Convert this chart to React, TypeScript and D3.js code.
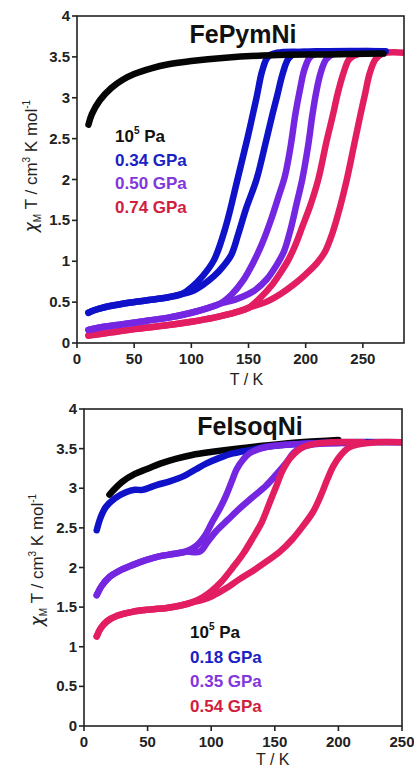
import React from "react";
import * as d3 from "d3";

// ---------- Data: top panel (FePymNi) ----------
const topTicksX = [0, 50, 100, 150, 200, 250];
const topTicksY = [0, 0.5, 1, 1.5, 2, 2.5, 3, 3.5, 4];

const fpAmbient: [number, number][] = [
  [10, 2.67], [13, 2.8], [20, 2.97], [30, 3.12], [40, 3.22], [50, 3.29], [65, 3.36],
  [80, 3.41], [100, 3.45], [130, 3.49], [170, 3.52], [220, 3.53], [268, 3.54],
];
const fp034Low: [number, number][] = [
  [10, 0.37], [15, 0.4], [25, 0.44], [40, 0.48], [60, 0.52], [80, 0.56], [92, 0.6],
];
const fp034Cool: [number, number][] = [
  [100, 0.68], [110, 0.82], [120, 1.02], [130, 1.42], [140, 1.98], [149, 2.5],
  [157, 3.0], [162, 3.33], [167, 3.5], [175, 3.55], [200, 3.56],
];
const fp034Heat: [number, number][] = [
  [100, 0.63], [110, 0.71], [120, 0.82], [128, 0.94], [135, 1.08], [141, 1.33],
  [148, 1.65], [157, 2.0], [165, 2.45], [171, 2.8], [175, 3.02], [180, 3.3],
  [185, 3.48], [192, 3.55], [220, 3.57], [270, 3.57],
];
const fp050Low: [number, number][] = [
  [10, 0.16], [20, 0.19], [40, 0.23], [60, 0.27], [80, 0.31], [100, 0.37], [115, 0.43], [125, 0.48],
];
const fp050Cool: [number, number][] = [
  [135, 0.59], [145, 0.76], [154, 0.98], [162, 1.22], [170, 1.52], [176, 1.78],
  [182, 2.05], [187, 2.42], [191, 2.8], [195, 3.1], [199, 3.35], [204, 3.5],
  [212, 3.55], [235, 3.57],
];
const fp050Heat: [number, number][] = [
  [140, 0.54], [155, 0.64], [166, 0.78], [174, 0.94], [181, 1.12], [187, 1.4],
  [192, 1.7], [197, 2.0], [202, 2.4], [206, 2.8], [209, 3.05], [213, 3.3],
  [218, 3.47], [225, 3.54], [260, 3.57],
];
const fp074Low: [number, number][] = [
  [10, 0.09], [30, 0.13], [50, 0.17], [75, 0.21], [100, 0.26], [120, 0.31], [140, 0.38], [150, 0.43],
];
const fp074Cool: [number, number][] = [
  [160, 0.55], [170, 0.7], [178, 0.86], [185, 1.02], [191, 1.2], [197, 1.42],
  [204, 1.68], [211, 2.0], [218, 2.45], [224, 2.8], [228, 3.05], [233, 3.3],
  [238, 3.47], [245, 3.53], [255, 3.55],
];
const fp074Heat: [number, number][] = [
  [165, 0.5], [178, 0.6], [190, 0.72], [200, 0.84], [210, 0.98], [217, 1.12],
  [224, 1.37], [230, 1.66], [236, 2.0], [242, 2.4], [248, 2.8], [252, 3.05],
  [256, 3.3], [261, 3.47], [267, 3.54], [287, 3.55],
];

// ---------- Data: bottom panel (FeIsoqNi) ----------
const botTicksX = [0, 50, 100, 150, 200, 250];
const botTicksY = [0, 0.5, 1, 1.5, 2, 2.5, 3, 3.5, 4];

const fiAmbient: [number, number][] = [
  [20, 2.92], [30, 3.08], [40, 3.18], [49, 3.24], [60, 3.31], [72, 3.37], [85, 3.42],
  [101, 3.46], [120, 3.5], [143, 3.54], [170, 3.58], [200, 3.61],
];
const fi018: [number, number][] = [
  [10, 2.47], [13, 2.63], [17, 2.76], [24, 2.87], [33, 2.95], [40, 2.98], [46, 2.98],
  [57, 3.04], [68, 3.09], [78, 3.15], [88, 3.24], [96, 3.31], [106, 3.38], [117, 3.44],
  [130, 3.48], [143, 3.52], [169, 3.56], [200, 3.58], [250, 3.58],
];
const fi035Low: [number, number][] = [
  [10, 1.65], [14, 1.77], [20, 1.88], [28, 1.96], [38, 2.03], [48, 2.09], [59, 2.14],
  [70, 2.17], [80, 2.2],
];
const fi035Cool: [number, number][] = [
  [88, 2.27], [95, 2.4], [101, 2.58], [107, 2.75], [112, 2.92], [116, 3.08],
  [120, 3.24], [125, 3.36], [130, 3.44], [143, 3.52], [170, 3.56], [200, 3.57],
];
const fi035Heat: [number, number][] = [
  [91, 2.2], [97, 2.32], [104, 2.46], [113, 2.6], [122, 2.74], [132, 2.88],
  [143, 3.03], [151, 3.17], [159, 3.32], [165, 3.45], [172, 3.52], [185, 3.56], [220, 3.57],
];
const fi054Low: [number, number][] = [
  [10, 1.13], [13, 1.23], [18, 1.32], [26, 1.39], [38, 1.44], [52, 1.47], [65, 1.49],
  [76, 1.52], [85, 1.56],
];
const fi054Cool: [number, number][] = [
  [93, 1.62], [100, 1.7], [108, 1.82], [117, 2.0], [125, 2.17], [133, 2.38],
  [140, 2.58], [146, 2.82], [151, 3.02], [156, 3.22], [162, 3.38], [170, 3.5],
  [178, 3.55], [195, 3.58], [220, 3.58],
];
const fi054Heat: [number, number][] = [
  [93, 1.59], [101, 1.64], [112, 1.74], [122, 1.85], [133, 1.96], [143, 2.07],
  [154, 2.2], [164, 2.36], [172, 2.52], [180, 2.7], [186, 2.9], [191, 3.1],
  [196, 3.28], [202, 3.42], [208, 3.51], [215, 3.55], [230, 3.58], [250, 3.58],
];

const fpLegend = ["0.34 GPa", "0.50 GPa", "0.74 GPa"];
const fiLegend = ["0.18 GPa", "0.35 GPa", "0.54 GPa"];

const C_BLACK = "#050505";
const C_BLUE = "#0f12c8";
const C_PURPLE = "#7426e0";
const C_RED = "#e31d62";
const L_BLUE = "#1a22c4";
const L_PURPLE = "#8236dc";
const L_RED = "#d01e3e";

const FONT = "'Liberation Sans', Arial, Helvetica, sans-serif";

type Series = { pts: [number, number][]; color: string };

type PanelProps = {
  id: string;
  x0: number; x1: number; y0: number; y1: number;
  xMax: number;
  ticksX: number[]; ticksY: number[];
  series: Series[];
  title: string; titleX: number; titleY: number;
  legendX: number; legendY: number; legendStep: number;
  legendLabels: string[];
  yLabelX: number; yLabelY: number;
  xLabelY: number;
};

function Panel(p: PanelProps) {
  const x = d3.scaleLinear().domain([0, p.xMax]).range([p.x0, p.x1]);
  const y = d3.scaleLinear().domain([0, 4]).range([p.y1, p.y0]);
  const line = d3
    .line<[number, number]>()
    .x((d) => x(d[0]))
    .y((d) => y(d[1]))
    .curve(d3.curveCatmullRom.alpha(0.5));
  const legendColors = [L_BLUE, L_PURPLE, L_RED];
  return (
    <g>
      <defs>
        <clipPath id={p.id}>
          <rect x={p.x0} y={p.y0} width={p.x1 - p.x0} height={p.y1 - p.y0} />
        </clipPath>
      </defs>
      <g clipPath={`url(#${p.id})`}>
        {p.series.map((s, i) => (
          <path
            key={i}
            d={line(s.pts) || ""}
            fill="none"
            stroke={s.color}
            strokeWidth={6.5}
            strokeLinecap="round"
            strokeLinejoin="round"
          />
        ))}
      </g>
      <rect x={p.x0} y={p.y0} width={p.x1 - p.x0} height={p.y1 - p.y0} fill="none" stroke="#222" strokeWidth={1.6} />
      {p.ticksY.map((t) => (
        <g key={"y" + t}>
          <line x1={p.x0 - 5} x2={p.x0} y1={y(t)} y2={y(t)} stroke="#222" strokeWidth={1.6} />
          <text x={p.x0 - 7} y={y(t) + 5} textAnchor="end" fontFamily={FONT} fontWeight="bold" fontSize={15} fill="#222">
            {String(t)}
          </text>
        </g>
      ))}
      {p.ticksX.map((t) => (
        <g key={"x" + t}>
          <line x1={x(t)} x2={x(t)} y1={p.y1} y2={p.y1 + 5} stroke="#222" strokeWidth={1.6} />
          <text x={x(t)} y={p.y1 + 21} textAnchor="middle" fontFamily={FONT} fontWeight="bold" fontSize={15} fill="#222">
            {String(t)}
          </text>
        </g>
      ))}
      <text x={x(150) - 2} y={p.xLabelY} textAnchor="middle" fontFamily={FONT} fontSize={16} fill="#222">
        T / K
      </text>
      <text
        transform={`translate(${p.yLabelX},${p.yLabelY}) rotate(-90)`}
        textAnchor="middle"
        fontFamily={FONT}
        fontSize={17}
        fill="#222"
      >
        <tspan fontFamily="'DejaVu Sans', sans-serif" fontStyle="italic">χ</tspan>
        <tspan dy={4} fontSize={10}>M</tspan>
        <tspan dy={-4}> T / cm</tspan>
        <tspan dy={-7} fontSize={10}>3</tspan>
        <tspan dy={7}> K mol</tspan>
        <tspan dy={-7} fontSize={10}>-1</tspan>
      </text>
      <text x={p.titleX} y={p.titleY} textAnchor="middle" fontFamily={FONT} fontWeight="bold" fontSize={25} fill="#111">
        {p.title}
      </text>
      <text x={p.legendX} y={p.legendY} fontFamily={FONT} fontWeight="bold" fontSize={17} fill="#111">
        <tspan>10</tspan>
        <tspan dy={-8} fontSize={10}>5</tspan>
        <tspan dy={8}> Pa</tspan>
      </text>
      {p.legendLabels.map((l, i) => (
        <text
          key={l}
          x={p.legendX}
          y={p.legendY + p.legendStep * (i + 1)}
          fontFamily={FONT}
          fontWeight="bold"
          fontSize={17}
          fill={legendColors[i]}
        >
          {l}
        </text>
      ))}
    </g>
  );
}

export default function App() {
  const topSeries: Series[] = [
    { pts: fp074Low.concat(fp074Heat), color: C_RED },
    { pts: fp074Low.concat(fp074Cool), color: C_RED },
    { pts: fp050Low.concat(fp050Heat), color: C_PURPLE },
    { pts: fp050Low.concat(fp050Cool), color: C_PURPLE },
    { pts: fp034Low.concat(fp034Heat), color: C_BLUE },
    { pts: fp034Low.concat(fp034Cool), color: C_BLUE },
    { pts: fpAmbient, color: C_BLACK },
  ];
  const botSeries: Series[] = [
    { pts: fiAmbient, color: C_BLACK },
    { pts: fi018, color: C_BLUE },
    { pts: fi035Low.concat(fi035Heat), color: C_PURPLE },
    { pts: fi035Low.concat(fi035Cool), color: C_PURPLE },
    { pts: fi054Low.concat(fi054Heat), color: C_RED },
    { pts: fi054Low.concat(fi054Cool), color: C_RED },
  ];
  return (
    <svg width={414} height={767} style={{ position: "absolute", left: 0, top: 0, background: "#fff" }}>
      <Panel
        id="clipTop"
        x0={77} x1={404} y0={16} y1={343}
        xMax={286}
        ticksX={topTicksX} ticksY={topTicksY}
        series={topSeries}
        title="FePymNi" titleX={243} titleY={43}
        legendX={115} legendY={142} legendStep={23.5}
        legendLabels={fpLegend}
        yLabelX={37} yLabelY={166}
        xLabelY={385}
      />
      <Panel
        id="clipBot"
        x0={84} x1={402} y0={409} y1={726}
        xMax={250}
        ticksX={botTicksX} ticksY={botTicksY}
        series={botSeries}
        title="FeIsoqNi" titleX={250} titleY={435}
        legendX={190} legendY={638} legendStep={24.5}
        legendLabels={fiLegend}
        yLabelX={43} yLabelY={560}
        xLabelY={765}
      />
    </svg>
  );
}
